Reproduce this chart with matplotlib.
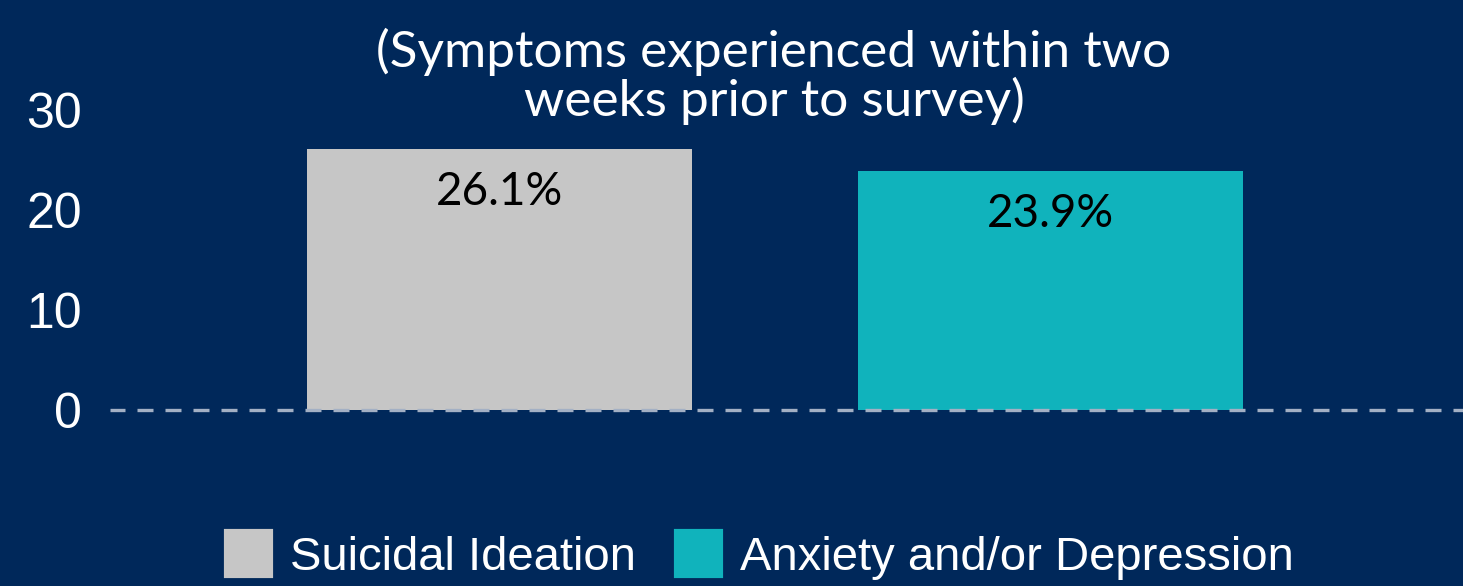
import matplotlib.pyplot as plt
from matplotlib.patches import Patch
import numpy as np

categories = ["Suicidal Ideation", "Anxiety and/or Depression"]
values = [26.1, 23.9]
value_labels = ["26.1%", "23.9%"]
yticks = [0, 10, 20, 30]
title = "(Symptoms experienced within two\nweeks prior to survey)"

bg = "#00285A"
colors = ["#C6C6C6", "#10B3BC"]

fig = plt.figure(figsize=(14.63, 5.86), dpi=100, facecolor=bg)
# axes: x from px 110 to 1463, y from px 410 (0) to 110 (30)
ax = fig.add_axes([110 / 1463, 1 - 410 / 586, 1 - 110 / 1463, 300 / 586])
ax.set_facecolor(bg)

x = np.arange(len(categories))
ax.bar(x, values, width=0.7, color=colors, zorder=2)
ax.set_xlim(-0.707, 1.749)
ax.set_ylim(0, 30)

ax.axhline(0, color="#A3B0C4", lw=2.4, ls=(0.3, (4.8, 3.6)), zorder=3, clip_on=False)

for xi, v, lab in zip(x, values, value_labels):
    ax.text(xi, v - 4.3, lab, ha="center", va="center", fontsize=33,
            family="Lato", color="black", zorder=4)

ax.set_yticks(yticks)
ax.set_yticklabels([str(t) for t in yticks], fontsize=36, color="white",
                   family="Liberation Sans")
ax.tick_params(axis="y", length=0, pad=20)
ax.set_xticks([])
for s in ax.spines.values():
    s.set_visible(False)

fig.text(774 / 1463, 1 - 76 / 586, title, ha="center", va="center",
         fontsize=37, family="Lato", color="white", linespacing=1.02)

handles = [Patch(facecolor=c, edgecolor=c, linewidth=3, joinstyle="round")
           for c in colors]
leg = fig.legend(handles, categories, loc="lower center", ncol=2,
                 bbox_to_anchor=(760 / 1463, -0.062), frameon=False,
                 prop={"family": "Liberation Sans", "size": 34},
                 labelcolor="white", handlelength=0.95, handleheight=1.1,
                 handletextpad=0.4, columnspacing=0.85)

fig.savefig("out.png", dpi=100, facecolor=bg)
